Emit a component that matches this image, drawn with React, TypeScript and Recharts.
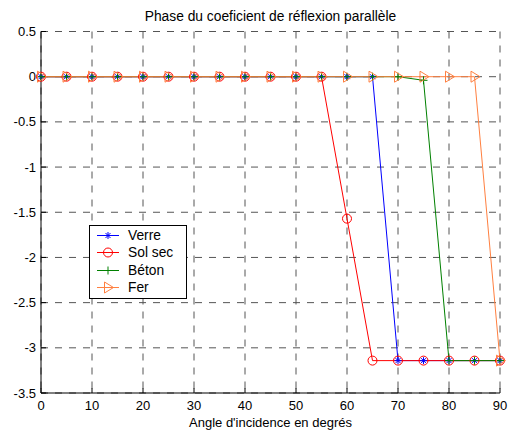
import React from 'react';
import { LineChart, Line, XAxis, YAxis, CartesianGrid, Legend } from 'recharts';

const angles = [0, 5, 10, 15, 20, 25, 30, 35, 40, 45, 50, 55, 60, 65, 70, 75, 80, 85, 90];
const verre = [0, 0, 0, 0, 0, 0, 0, 0, 0, 0, 0, 0, 0, 0, -3.1416, -3.1416, -3.1416, -3.1416, -3.1416];
const solSec = [0, 0, 0, 0, 0, 0, 0, 0, 0, 0, 0, 0, -1.5708, -3.1416, -3.1416, -3.1416, -3.1416, -3.1416, -3.1416];
const beton = [0, 0, 0, 0, 0, 0, 0, 0, 0, 0, 0, 0, 0, 0, 0, -0.04, -3.1416, -3.1416, -3.1416];
const fer = [0, 0, 0, 0, 0, 0, 0, 0, 0, 0, 0, 0, 0, 0, 0, 0, 0, 0, -3.1416];

const xTicks = [0, 10, 20, 30, 40, 50, 60, 70, 80, 90];
const yTicks = [0.5, 0, -0.5, -1, -1.5, -2, -2.5, -3, -3.5];

const seriesNames = ['Verre', 'Sol sec', 'Béton', 'Fer'];
const seriesKeys = ['verre', 'solSec', 'beton', 'fer'];
const seriesColors = ['#0000FF', '#FF0000', '#008000', '#FF8040'];
const seriesMarkers = ['star', 'circle', 'plus', 'triangle'];

const data = angles.map((a, i) => ({
  angle: a,
  verre: verre[i],
  solSec: solSec[i],
  beton: beton[i],
  fer: fer[i],
}));

const FONT = '"Liberation Sans", Arial, sans-serif';

function Marker({ type, cx, cy, color }: { type: string; cx: number; cy: number; color: string }) {
  if (type === 'star') {
    const r = 3.5;
    const d = 2.5;
    return (
      <g stroke={color} strokeWidth={1} fill="none">
        <line x1={cx - r} y1={cy} x2={cx + r} y2={cy} />
        <line x1={cx} y1={cy - r} x2={cx} y2={cy + r} />
        <line x1={cx - d} y1={cy - d} x2={cx + d} y2={cy + d} />
        <line x1={cx - d} y1={cy + d} x2={cx + d} y2={cy - d} />
      </g>
    );
  }
  if (type === 'circle') {
    return <circle cx={cx} cy={cy} r={4.5} stroke={color} strokeWidth={1} fill="none" />;
  }
  if (type === 'plus') {
    const r = 4;
    return (
      <g stroke={color} strokeWidth={1} fill="none">
        <line x1={cx - r} y1={cy} x2={cx + r} y2={cy} />
        <line x1={cx} y1={cy - r} x2={cx} y2={cy + r} />
      </g>
    );
  }
  return (
    <polygon
      points={`${cx - 3.5},${cy - 5.5} ${cx - 3.5},${cy + 5.5} ${cx + 5.5},${cy}`}
      stroke={color}
      strokeWidth={1}
      fill="none"
    />
  );
}

const makeDot = (idx: number) => (props: any) => {
  const { cx, cy, index } = props;
  if (cx == null || cy == null) return <g key={`d${idx}-${index}`} />;
  return (
    <g key={`d${idx}-${index}`}>
      <Marker type={seriesMarkers[idx]} cx={cx} cy={cy} color={seriesColors[idx]} />
    </g>
  );
};

const renderLegend = () => (
  <div
    style={{
      width: 98,
      height: 74,
      boxSizing: 'border-box',
      border: '1px solid #000',
      background: '#fff',
      position: 'relative',
      fontFamily: FONT,
      fontSize: 13.8,
      color: '#000',
    }}
  >
    {seriesNames.map((name, i) => (
      <div
        key={name}
        style={{
          position: 'absolute',
          left: 0,
          top: 1 + i * 17.3,
          height: 17.3,
          width: 96,
          display: 'flex',
          alignItems: 'center',
        }}
      >
        <svg width={34} height={17} style={{ display: 'block' }}>
          <line x1={7} y1={8.5} x2={29} y2={8.5} stroke={seriesColors[i]} strokeWidth={1} />
          <Marker type={seriesMarkers[i]} cx={18} cy={8.5} color={seriesColors[i]} />
        </svg>
        <span style={{ marginLeft: 4, lineHeight: '17px', whiteSpace: 'nowrap' }}>{name}</span>
      </div>
    ))}
  </div>
);

export default function App() {
  return (
    <div style={{ position: 'absolute', left: 0, top: 0, width: 508, height: 433, background: '#fff' }}>
      <div
        style={{
          position: 'absolute',
          left: 41,
          width: 459,
          top: 9,
          textAlign: 'center',
          fontFamily: FONT,
          fontSize: 13.8,
          lineHeight: '16px',
          color: '#000',
          whiteSpace: 'nowrap',
        }}
      >
        Phase du coeficient de réflexion parallèle
      </div>
      <LineChart
        width={508}
        height={433}
        data={data}
        margin={{ top: 31.5, right: 8, left: 0, bottom: 0 }}
        style={{ position: 'absolute', left: 0, top: 0 }}
      >
        <CartesianGrid stroke="#555" strokeDasharray="7 7" />
        <XAxis
          dataKey="angle"
          type="number"
          domain={[0, 90]}
          ticks={xTicks}
          interval={0}
          height={40}
          tickSize={-5}
          tickMargin={13}
          axisLine={{ stroke: '#000' }}
          tickLine={{ stroke: '#000' }}
          tick={{ fill: '#000', fontSize: 13, fontFamily: FONT }}
          label={{
            value: "Angle d'incidence en degrés",
            position: 'insideBottom',
            offset: 6,
            fill: '#000',
            fontSize: 13,
            fontFamily: FONT,
          }}
        />
        <YAxis
          type="number"
          domain={[-3.5, 0.5]}
          ticks={yTicks}
          interval={0}
          width={41}
          tickSize={-5}
          tickMargin={10}
          allowDataOverflow
          axisLine={{ stroke: '#000' }}
          tickLine={{ stroke: '#000' }}
          tick={{ fill: '#000', fontSize: 13, fontFamily: FONT }}
        />
        <Legend
          layout="vertical"
          align="center"
          verticalAlign="middle"
          content={renderLegend}
          wrapperStyle={{ left: 89, top: 225, width: 98, height: 74 }}
        />
        {seriesKeys.map((k, i) => (
          <Line
            key={k}
            dataKey={k}
            name={seriesNames[i]}
            type="linear"
            stroke={seriesColors[i]}
            strokeWidth={1}
            dot={makeDot(i)}
            activeDot={false}
            isAnimationActive={false}
          />
        ))}
      </LineChart>
    </div>
  );
}
